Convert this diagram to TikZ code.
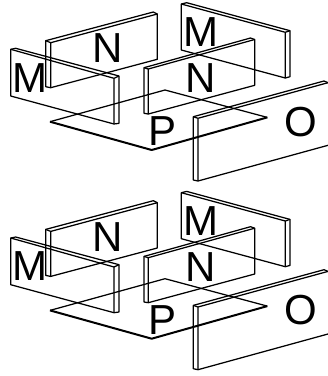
\documentclass[tikz,border=0pt]{standalone}
\usepackage{fontspec}
\setmainfont{Liberation Sans}
\tikzstyle{plate} = [line width=1.25pt, line join=round]
\tikzstyle{base}  = [line width=1.25pt, line join=round]
\tikzstyle{front} = [line width=2pt, line join=round]
\tikzstyle{lbl}   = [inner sep=0pt, font=\fontsize{42}{42}\selectfont]

\begin{document}
\begin{tikzpicture}[x=1pt, y=-1pt]
  \useasboundingbox (0,0) rectangle (328,376);
  \foreach \dy/\g in {0/a, 188.7/b} {
    \begin{scope}[shift={(0,\dy)}]
      \draw[plate] (10.7,49.3) -- (15.7,48.3) -- (119,76) -- (119,123.3) -- (114,124) -- (10.7,96) -- cycle;
      \draw[plate] (10.7,49.3) -- (114,78.3) -- (114,124) (114,78.3) -- (119,76);

      \draw[plate] (45.7,40.7) -- (153.3,12) -- (157.3,14) -- (157.3,59.3) -- (50.7,87.7) -- (45.7,86.7) -- cycle;
      \draw[plate] (45.7,40.7) -- (50.7,42.7) -- (50.7,87.7) (50.7,42.7) -- (157.3,14);

      \draw[plate] (144,67.7) -- (250.5,38) -- (254.7,39.5) -- (254.7,85.3) -- (148.3,114) -- (144,113.3) -- cycle;
      \draw[plate] (144,67.7) -- (148.3,69) -- (148.3,114) (148.3,69) -- (254.7,39.5);

      \draw[plate] (181.3,4) -- (186.7,2.7) -- (290,30.7) -- (290,76.7) -- (285.3,78) -- (181.3,50) -- cycle;
      \draw[plate] (181.3,4) -- (285.3,32.3) -- (285.3,78) (285.3,32.3) -- (290,30.7);

      \draw[base] (50,121.7) -- (165,90) -- (267.3,117.4);
      \draw[front] (50,121.7) -- (151.7,150) -- (267.3,117.4);

      \draw[plate] (328,82.7) -- (324,81) -- (193.3,116.7) -- (193.3,180) -- (198,181) -- (328,145.3);
      \draw[plate] (193.3,116.7) -- (198,118.3) -- (198,181) (198,118.3) -- (328,82.7);

      \node[lbl] (M1\g) at (29.7,77.8) {M};
      \node[lbl] (N1\g) at (108,48) {N};
      \node[lbl] (M2\g) at (201,32) {M};
      \node[lbl] (N2\g) at (201,78) {N};
      \node[lbl] (P\g)  at (163,131) {P};
      \node[lbl] (O\g)  at (301,121.7) {O};
    \end{scope}
  }
\end{tikzpicture}
\end{document}
